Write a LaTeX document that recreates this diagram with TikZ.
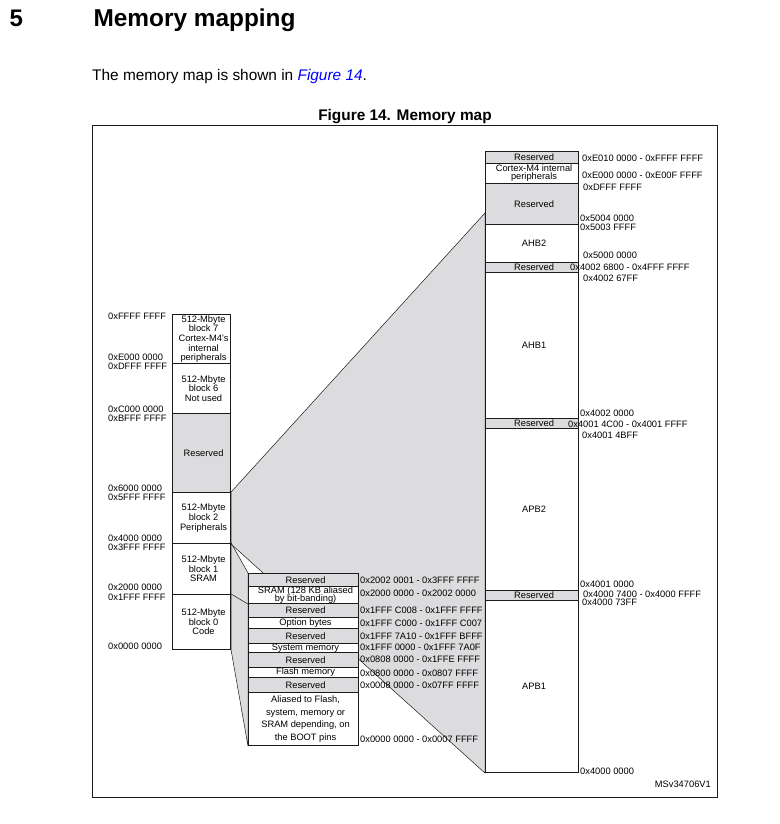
\documentclass[tikz,border=0pt]{standalone}
\usepackage{fontspec}
\setmainfont{Liberation Sans}
\usetikzlibrary{backgrounds}
\definecolor{ink}{HTML}{1A1A1A}
\definecolor{memgray}{HTML}{DCDCDE}
\definecolor{linkblue}{HTML}{0000FF}

\tikzset{
  memrow/.style={draw=ink, line width=1.1pt, inner sep=0pt, anchor=north west},
  inlbl/.style={font=\fontsize{9.3}{9.6}\selectfont, align=center, inner sep=0pt, xshift=2pt},
  addr/.style={font=\fontsize{9.3}{10}\selectfont, inner sep=0pt, anchor=west},
  proj/.style={fill=memgray, draw=ink, line width=0.5pt},
}

% one row of a memory column: name, left x, top y, bottom y, width, fill, text
\newcommand{\memrow}[7]{%
  \node[memrow, fill=#6, minimum width=#5pt, minimum height={(#4-#3)*1pt}] (#1) at (#2,#3) {};
  \node[inlbl] (#1-t) at (#1) {#7};
}

\begin{document}
\begin{tikzpicture}[x=1pt, y=-1pt]
  \useasboundingbox (0,0) rectangle (779,824);

  % Heading, sentence and caption
  \node[anchor=base west, font=\fontsize{24}{28}\selectfont\bfseries] (secnum) at (6,27) {5};
  \node[anchor=base west, font=\fontsize{24.4}{28}\selectfont\bfseries] (sectitle) at (90,27) {Memory mapping};
  \node[anchor=base west, font=\fontsize{15.4}{18}\selectfont, inner sep=0pt] (intro) at (92,81)
    {The memory map is shown in \textcolor{linkblue}{\itshape Figure 14}.};
  \node[anchor=base, font=\fontsize{15.4}{18}\selectfont\bfseries, inner sep=0pt] (caption) at (405,121)
    {Figure 14. Memory map};

  % Frame
  \draw[draw=ink, line width=0.8pt] (92,125) rectangle (717,797);

  % Left column: 512-Mbyte blocks
  \memrow{blk7}{172}{314}{363}{58}{white}{512-Mbyte\\block 7\\Cortex-M4's\\internal\\peripherals}
  \memrow{blk6}{172}{363}{413}{58}{white}{512-Mbyte\\block 6\\Not used}
  \memrow{blkres}{172}{413}{492}{58}{memgray}{Reserved}
  \memrow{blk2}{172}{492}{543}{58}{white}{512-Mbyte\\block 2\\Peripherals}
  \memrow{blk1}{172}{543}{594}{58}{white}{512-Mbyte\\block 1\\SRAM}
  \memrow{blk0}{172}{594}{649}{58}{white}{512-Mbyte\\block 0\\Code}

  % Middle column: code and SRAM area
  \memrow{mres1}{248}{573}{586}{110}{memgray}{Reserved}
  \memrow{msram}{248}{586}{603}{110}{white}{SRAM (128 KB aliased\\[-1.8pt]by bit-banding)}
  \memrow{mres2}{248}{603}{617}{110}{memgray}{Reserved}
  \memrow{mopt}{248}{617}{628}{110}{white}{Option bytes}
  \memrow{mres3}{248}{628}{643}{110}{memgray}{Reserved}
  \memrow{msys}{248}{643}{652}{110}{white}{System memory}
  \memrow{mres4}{248}{652}{667}{110}{memgray}{Reserved}
  \memrow{mflash}{248}{667}{677}{110}{white}{Flash memory}
  \memrow{mres5}{248}{677}{692}{110}{memgray}{Reserved}
  \memrow{malias}{248}{692}{745}{110}{white}{\\[-3pt]Aliased to Flash,\\[3pt]system, memory or\\[3pt]SRAM depending, on\\[3pt]the BOOT pins}

  % Right column: peripheral area
  \memrow{rres1}{485}{151}{163}{93}{memgray}{Reserved}
  \memrow{rcortex}{485}{163}{183}{93}{white}{Cortex-M4 internal\\[-1.6pt]peripherals}
  \memrow{rres2}{485}{183}{224}{93}{memgray}{Reserved}
  \memrow{rahb2}{485}{224}{262}{93}{white}{AHB2}
  \memrow{rres3}{485}{262}{272}{93}{memgray}{Reserved}
  \memrow{rahb1}{485}{272}{418}{93}{white}{AHB1}
  \memrow{rres4}{485}{418}{428}{93}{memgray}{Reserved}
  \memrow{rapb2}{485}{428}{590}{93}{white}{APB2}
  \memrow{rres5}{485}{590}{600}{93}{memgray}{Reserved}
  \memrow{rapb1}{485}{600}{772}{93}{white}{APB1}

  % Zoom-out wedges behind the columns
  \begin{scope}[on background layer]
    \coordinate (hit) at (485,213);
    \filldraw[proj] (blk2.north east) -- (hit) -- (rapb1.south west) -- (blk2.south east) -- cycle;
    \filldraw[proj] (blk1.north east) -- (mres1.north west) -- (malias.south west) -- (blk0.south east) -- cycle;
    \draw[draw=ink, line width=0.5pt] (blk0.north east) -- (msram.south west);
  \end{scope}

  % Addresses, left
  \foreach \yy/\adr [count=\k] in {
    316/0xFFFF FFFF, 357/0xE000 0000, 366/0xDFFF FFFF,
    409/0xC000 0000, 418/0xBFFF FFFF, 488/0x6000 0000,
    497/0x5FFF FFFF, 538/0x4000 0000, 547/0x3FFF FFFF,
    587/0x2000 0000, 597/0x1FFF FFFF, 646/0x0000 0000
  } {
    \node[addr] (ladr\k) at (108,\yy) {\adr};
  }

  % Addresses, middle
  \foreach \yy/\adr [count=\k] in {
    580/0x2002 0001 - 0x3FFF FFFF, 593/0x2000 0000 - 0x2002 0000,
    610/0x1FFF C008 - 0x1FFF FFFF, 623/0x1FFF C000 - 0x1FFF C007,
    636/0x1FFF 7A10 - 0x1FFF BFFF, 647/0x1FFF 0000 - 0x1FFF 7A0F,
    659/0x0808 0000 - 0x1FFE FFFF, 673/0x0800 0000 - 0x0807 FFFF,
    685/0x0008 0000 - 0x07FF FFFF, 739/0x0000 0000 - 0x0007 FFFF
  } {
    \node[addr] (madr\k) at (360,\yy) {\adr};
  }

  % Addresses, right
  \foreach \xx/\yy/\adr [count=\k] in {
    582/158/0xE010 0000 - 0xFFFF FFFF, 582/175/0xE000 0000 - 0xE00F FFFF,
    583/187/0xDFFF FFFF, 580/218/0x5004 0000, 580/227/0x5003 FFFF,
    583/255/0x5000 0000, 570/267/0x4002 6800 - 0x4FFF FFFF,
    583/278/0x4002 67FF, 580/413/0x4002 0000,
    568/424/0x4001 4C00 - 0x4001 FFFF, 582/435/0x4001 4BFF,
    580/584/0x4001 0000, 583/594/0x4000 7400 - 0x4000 FFFF,
    582/602/0x4000 73FF, 580/771/0x4000 0000
  } {
    \node[addr] (radr\k) at (\xx,\yy) {\adr};
  }

  \node[addr, anchor=east] (figid) at (711,784) {MSv34706V1};
\end{tikzpicture}
\end{document}
